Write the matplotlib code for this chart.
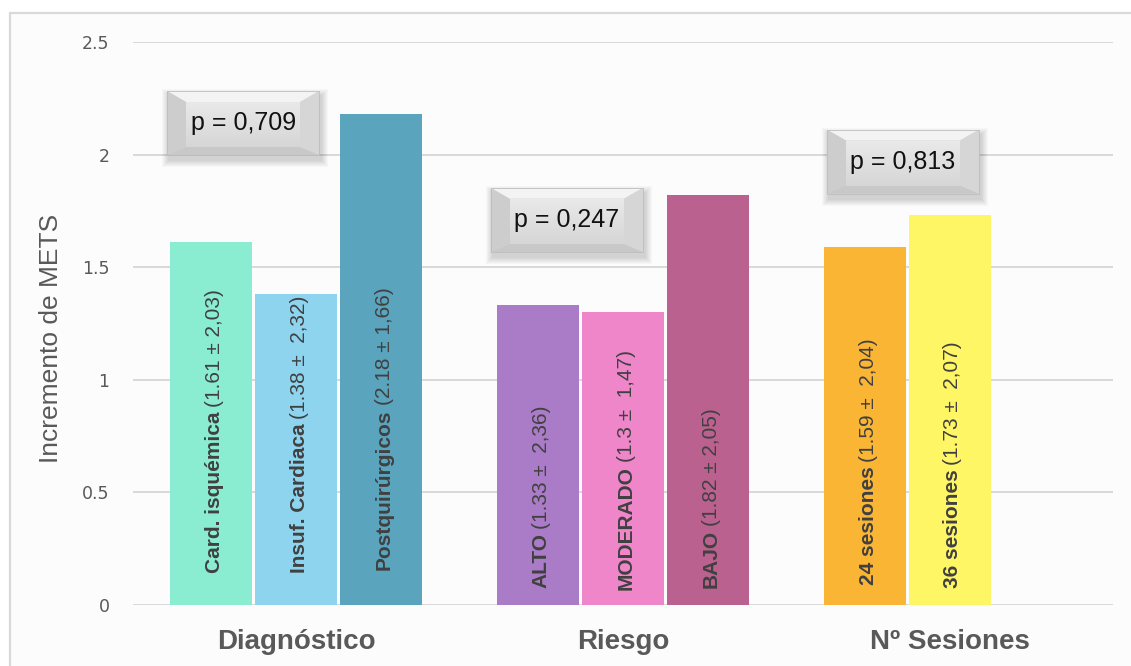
import numpy as np
import matplotlib
matplotlib.use('Agg')
import matplotlib.pyplot as plt
from matplotlib.colors import LinearSegmentedColormap
from matplotlib.patches import Rectangle, Polygon

# --- data ---
groups = ['Diagnóstico', 'Riesgo', 'Nº Sesiones']
names = [['Card. isquémica', 'Insuf. Cardiaca', 'Postquirúrgicos'],
         ['ALTO', 'MODERADO', 'BAJO'],
         ['24 sesiones', '36 sesiones']]
means = [[1.61, 1.38, 2.18],
         [1.33, 1.3, 1.82],
         [1.59, 1.73]]
sd_labels = [['2,03', ' 2,32', '1,66'],
             [' 2,36', ' 1,47', '2,05'],
             [' 2,04', ' 2,07']]
p_values = ['0,709', '0,247', '0,813']

colors = [['#8AEDD2', '#8ED4EF', '#5AA4BD'],
          ['#AA7BC6', '#EE86C9', '#BB6190'],
          ['#FBB534', '#FEF664']]
# where each rotated label starts (data units above zero)
label_base = [[0.142, 0.142, 0.155],
              [0.075, 0.067, 0.075],
              [0.089, 0.075]]
# centre of each p-value box (x in category units, y in data)
pbox_xy = [(-0.163, 2.140), (0.828, 1.710), (1.857, 1.969)]

W, H, DPI = 1131, 666, 100
fig = plt.figure(figsize=(W / DPI, H / DPI), dpi=DPI)
fig.patch.set_facecolor('white')

# chart area panel with thin border
fig.patches.append(Rectangle((9.5 / W, -0.05), 1.2, 1 - 13 / H + 0.05,
                             transform=fig.transFigure, facecolor='#FCFCFC',
                             edgecolor='#D9D9D9', lw=1.6, zorder=-10))

ax = fig.add_axes([133 / W, 1 - 605 / H, (1113 - 133) / W, (605 - 42) / H])
ax.set_facecolor('none')
ax.set_xlim(-0.5, 2.5)
ax.set_ylim(0, 2.5)

step = 0.26
bw = 0.251
for gi, vals in enumerate(means):
    for j, v in enumerate(vals):
        x = gi + (j - 1) * step
        ax.bar(x, v, width=bw, color=colors[gi][j], zorder=3)
        t1 = ax.text(x + 0.01, label_base[gi][j], names[gi][j], rotation=90,
                     rotation_mode='anchor', ha='left', va='center',
                     fontsize=15, fontweight='bold', color='#404040',
                     family='Liberation Sans', zorder=4)
        ax.annotate('(%s ± %s)' % (str(v), sd_labels[gi][j]),
                    xy=(x + 0.01, 1), xycoords=('data', t1),
                    xytext=(0, 3), textcoords='offset points',
                    rotation=90, rotation_mode='anchor', ha='left', va='center',
                    fontsize=15, color='#404040', family='Liberation Sans',
                    zorder=4)


def draw_pbox(ax, cx, cy, text):
    # beveled grey label box with soft drop shadow
    px = 1 / 326.7
    py = 1 / 225.2
    w, h = 152 * px, 64 * py
    x0, x1 = cx - w / 2, cx + w / 2
    y0, y1 = cy - h / 2, cy + h / 2
    for k in range(7, 0, -1):
        ax.add_patch(Rectangle((x0 + (2 - k) * px, y0 - (5 + k) * py),
                               w + 2 * k * px, h + 2 * k * py,
                               facecolor='#000000', alpha=0.025, lw=0, zorder=5))
    ix0, ix1 = x0 + 19 * px, x1 - 19 * px
    iy0, iy1 = y0 + 8 * py, y1 - 11 * py
    ax.add_patch(Polygon([(x0, y1), (x1, y1), (ix1, iy1), (ix0, iy1)],
                         facecolor='#F3F3F3', lw=0, zorder=6))
    ax.add_patch(Polygon([(x0, y0), (x1, y0), (ix1, iy0), (ix0, iy0)],
                         facecolor='#C8C8C8', lw=0, zorder=6))
    ax.add_patch(Polygon([(x0, y0), (x0, y1), (ix0, iy1), (ix0, iy0)],
                         facecolor='#CDCDCD', lw=0, zorder=6))
    ax.add_patch(Polygon([(x1, y0), (x1, y1), (ix1, iy1), (ix1, iy0)],
                         facecolor='#D6D6D6', lw=0, zorder=6))
    grad = np.linspace(0, 1, 50).reshape(-1, 1)
    face = LinearSegmentedColormap.from_list('face', ['#D6D6D6', '#E9E9E9'])
    ax.imshow(grad, extent=(ix0, ix1, iy0, iy1), cmap=face, origin='lower',
              aspect='auto', zorder=6)
    ax.add_patch(Rectangle((x0, y0), w, h, facecolor='none',
                           edgecolor='#BDBDBD', lw=0.6, zorder=7))
    ax.text(cx, cy, text, ha='center', va='center', fontsize=18,
            family='Liberation Sans', color='#111111', zorder=8)


for (cx, cy), p in zip(pbox_xy, p_values):
    draw_pbox(ax, cx, cy, 'p = ' + p)
ax.set_xlim(-0.5, 2.5)
ax.set_ylim(0, 2.5)

ax.set_xticks(range(len(groups)))
ax.set_xticklabels(groups, fontsize=20, fontweight='bold', color='#595959',
                   family='Liberation Sans')
ax.set_yticks([0, 0.5, 1, 1.5, 2, 2.5])
ax.set_yticklabels(['0', '0.5', '1', '1.5', '2', '2.5'], fontsize=12.5,
                   color='#595959', family='DejaVu Sans')
ax.tick_params(axis='both', length=0)
ax.tick_params(axis='x', pad=17)
ax.tick_params(axis='y', pad=17)
ax.yaxis.grid(True, color='#D9D9D9', lw=1.4, zorder=0)
ax.set_axisbelow(True)
for s in ax.spines.values():
    s.set_visible(False)

ax.set_ylabel('Incremento de METS', fontsize=19, color='#595959',
              family='Liberation Sans')
ax.yaxis.set_label_coords(-0.071, 0.474)

fig.savefig('out.png', dpi=DPI)
